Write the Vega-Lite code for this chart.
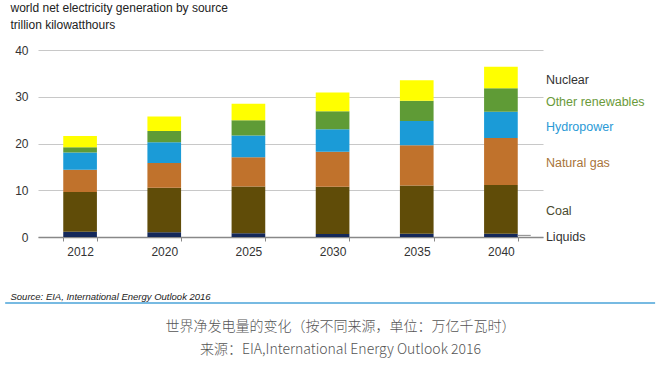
{
  "$schema": "https://vega.github.io/schema/vega-lite/v6.json",
  "width": 505,
  "height": 187,
  "autosize": {"type": "none"},
  "padding": {"left": 38, "top": 50, "right": 118, "bottom": 130},
  "background": "white",
  "config": {
    "view": {"stroke": null},
    "font": "Liberation Sans"
  },
  "title": {
    "text": "世界净发电量的变化（按不同来源，单位：万亿千瓦时）",
    "subtitle": "来源：EIA,International Energy Outlook 2016",
    "orient": "bottom",
    "anchor": "middle",
    "frame": "group",
    "dx": 50,
    "offset": 16,
    "font": "Noto Sans CJK SC",
    "fontSize": 14,
    "fontWeight": 300,
    "color": "#555555",
    "subtitleFont": "Noto Sans CJK SC",
    "subtitleFontSize": 14,
    "subtitleFontWeight": 300,
    "subtitleColor": "#555555",
    "subtitlePadding": 9
  },
  "data": {
    "values": [
      {"year": "2012", "source": "Liquids", "order": 1, "value": 1.1},
      {"year": "2012", "source": "Coal", "order": 2, "value": 8.5},
      {"year": "2012", "source": "Natural gas", "order": 3, "value": 4.8},
      {"year": "2012", "source": "Hydropower", "order": 4, "value": 3.7},
      {"year": "2012", "source": "Other renewables", "order": 5, "value": 1.1},
      {"year": "2012", "source": "Nuclear", "order": 6, "value": 2.4},
      {"year": "2020", "source": "Liquids", "order": 1, "value": 1.0},
      {"year": "2020", "source": "Coal", "order": 2, "value": 9.55},
      {"year": "2020", "source": "Natural gas", "order": 3, "value": 5.3},
      {"year": "2020", "source": "Hydropower", "order": 4, "value": 4.4},
      {"year": "2020", "source": "Other renewables", "order": 5, "value": 2.4},
      {"year": "2020", "source": "Nuclear", "order": 6, "value": 3.15},
      {"year": "2025", "source": "Liquids", "order": 1, "value": 0.8},
      {"year": "2025", "source": "Coal", "order": 2, "value": 10.0},
      {"year": "2025", "source": "Natural gas", "order": 3, "value": 6.25},
      {"year": "2025", "source": "Hydropower", "order": 4, "value": 4.65},
      {"year": "2025", "source": "Other renewables", "order": 5, "value": 3.3},
      {"year": "2025", "source": "Nuclear", "order": 6, "value": 3.5},
      {"year": "2030", "source": "Liquids", "order": 1, "value": 0.65},
      {"year": "2030", "source": "Coal", "order": 2, "value": 10.1},
      {"year": "2030", "source": "Natural gas", "order": 3, "value": 7.5},
      {"year": "2030", "source": "Hydropower", "order": 4, "value": 4.8},
      {"year": "2030", "source": "Other renewables", "order": 5, "value": 3.85},
      {"year": "2030", "source": "Nuclear", "order": 6, "value": 4.0},
      {"year": "2035", "source": "Liquids", "order": 1, "value": 0.7},
      {"year": "2035", "source": "Coal", "order": 2, "value": 10.3},
      {"year": "2035", "source": "Natural gas", "order": 3, "value": 8.6},
      {"year": "2035", "source": "Hydropower", "order": 4, "value": 5.2},
      {"year": "2035", "source": "Other renewables", "order": 5, "value": 4.35},
      {"year": "2035", "source": "Nuclear", "order": 6, "value": 4.4},
      {"year": "2040", "source": "Liquids", "order": 1, "value": 0.7},
      {"year": "2040", "source": "Coal", "order": 2, "value": 10.4},
      {"year": "2040", "source": "Natural gas", "order": 3, "value": 10.1},
      {"year": "2040", "source": "Hydropower", "order": 4, "value": 5.6},
      {"year": "2040", "source": "Other renewables", "order": 5, "value": 5.0},
      {"year": "2040", "source": "Nuclear", "order": 6, "value": 4.6}
    ]
  },
  "transform": [
    {"stack": "value", "groupby": ["year"], "sort": [{"field": "order", "order": "ascending"}], "as": ["y0", "y1"]},
    {"calculate": "(datum.y0 + datum.y1) / 2", "as": "mid"}
  ],
  "layer": [
    {
      "layer": [
        {
          "mark": {"type": "bar"},
          "encoding": {
            "x": {
              "field": "year", "type": "nominal",
              "scale": {"paddingInner": 0.6, "paddingOuter": 0.3},
              "axis": {
                "labelAngle": 0, "labelFontSize": 12, "labelColor": "#333333", "labelPadding": 5,
                "domainColor": "#888888", "domainWidth": 1.5,
                "tickBand": "extent", "tickColor": "#888888", "tickSize": 4, "tickWidth": 1,
                "title": "Source:  EIA, International Energy Outlook 2016",
                "titleFontStyle": "italic", "titleFontWeight": "normal", "titleFontSize": 9.5,
                "titleColor": "#222222", "titleAnchor": "start", "titleAlign": "left",
                "titleBaseline": "alphabetic", "titleX": -28, "titleY": 62
              }
            },
            "y": {
              "field": "y1", "type": "quantitative",
              "scale": {"domain": [0, 40], "nice": false},
              "axis": {
                "values": [0, 10, 20, 30, 40],
                "domain": false, "ticks": false, "labelPadding": 10, "labelFontSize": 12,
                "labelColor": "#333333", "gridColor": "#c8c8c8", "gridWidth": 1.2,
                "title": ["world net electricity generation by source", "trillion kilowatthours"],
                "titleAngle": 0, "titleAlign": "left", "titleBaseline": "top",
                "titleX": -28, "titleY": -48, "titleFontSize": 12, "titleFontWeight": "normal",
                "titleColor": "#222222", "titleLineHeight": 17
              }
            },
            "y2": {"field": "y0"},
            "color": {
              "field": "source", "type": "nominal",
              "scale": {
                "domain": ["Liquids", "Coal", "Natural gas", "Hydropower", "Other renewables", "Nuclear"],
                "range": ["#14285a", "#604c08", "#c0722c", "#1b9bd7", "#5f9b36", "#ffff00"]
              },
              "legend": null
            }
          }
        },
        {
          "transform": [{"filter": "datum.year === '2040'"}],
          "mark": {"type": "text", "align": "left", "baseline": "middle", "dx": 45, "dy": 2, "fontSize": 12.5},
          "encoding": {
            "x": {"field": "year", "type": "nominal"},
            "y": {"field": "mid", "type": "quantitative"},
            "text": {"field": "source"},
            "color": {
              "field": "source", "type": "nominal",
              "scale": {
                "domain": ["Liquids", "Coal", "Natural gas", "Hydropower", "Other renewables", "Nuclear"],
                "range": ["#333333", "#4a4a30", "#a8743a", "#2a9ad6", "#6a9a3a", "#333333"]
              },
              "legend": null
            }
          }
        },
        {
          "transform": [{"filter": "datum.year === '2040' && datum.source === 'Liquids'"}],
          "mark": {"type": "rule", "color": "#888888", "strokeWidth": 1, "x2Offset": 13},
          "encoding": {
            "x": {"field": "year", "type": "nominal", "bandPosition": 1},
            "x2": {"field": "year", "bandPosition": 1},
            "y": {"field": "mid", "type": "quantitative"}
          }
        }
      ],
      "resolve": {"scale": {"color": "independent"}}
    },
    {
      "data": {"values": [{"a": -0.065, "b": 1.222, "y": -14.1}]},
      "mark": {"type": "rule", "color": "#4aa3d8", "strokeWidth": 1.5},
      "encoding": {
        "x": {"field": "a", "type": "quantitative", "scale": {"domain": [0, 1], "nice": false, "zero": false}, "axis": null},
        "x2": {"field": "b"},
        "y": {"field": "y", "type": "quantitative"}
      }
    }
  ],
  "resolve": {"scale": {"x": "independent"}, "axis": {"x": "independent"}}
}
